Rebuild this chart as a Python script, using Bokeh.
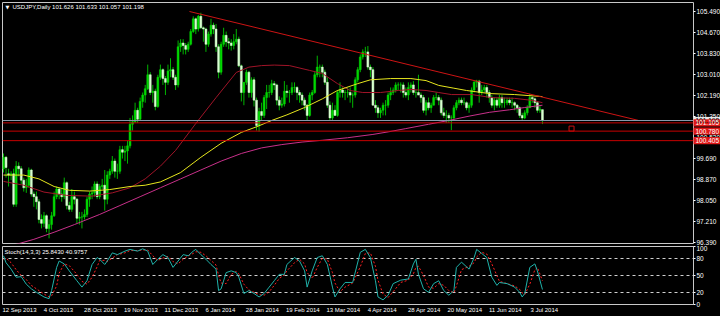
import numpy as np
from bokeh.plotting import figure
from bokeh.layouts import column
from bokeh.models import Range1d, FixedTicker, PrintfTickFormatter, Span, ColumnDataSource
from bokeh.embed import file_html
from bokeh.resources import INLINE
from bokeh.core.properties import value

# ---------------- data (USDJPY daily, 12 Sep 2013 .. 10 Jul 2014) -------------
bar_open = [99.30, 99.75, 99.10, 99.05, 99.10, 97.90, 99.40, 99.30, 98.85, 98.55,
            98.65, 99.25, 98.30, 98.20, 98.00, 97.30, 97.15, 97.45, 96.95, 97.10,
            97.45, 98.20, 98.50, 98.30, 98.20, 98.75, 97.85, 97.70, 98.20, 98.10,
            97.35, 97.40, 97.40, 97.50, 98.10, 98.30, 98.35, 98.70, 98.20, 98.60,
            98.65, 98.10, 99.05, 99.20, 99.60, 99.20, 99.20, 100.05, 99.95, 100.00,
            100.20, 101.05, 101.15, 101.60, 101.25, 101.95, 102.20, 102.45, 103.00, 102.30,
            102.35, 101.75, 102.90, 103.20, 102.85, 102.70, 103.15, 103.20, 102.90, 102.60,
            104.10, 104.25, 104.15, 104.00, 104.20, 104.70, 105.20, 104.80, 105.30, 104.85,
            104.80, 104.20, 104.60, 104.95, 104.80, 104.10, 103.10, 104.20, 104.55, 104.30,
            104.25, 104.15, 104.30, 104.40, 103.35, 102.30, 102.70, 103.10, 102.30, 102.80,
            102.00, 101.00, 101.55, 101.40, 102.10, 102.30, 102.30, 102.65, 102.60, 102.00,
            101.80, 101.85, 102.35, 102.30, 102.30, 102.50, 102.50, 102.30, 102.20, 102.00,
            101.80, 101.40, 102.20, 102.30, 103.00, 103.30, 103.30, 103.10, 102.70, 101.80,
            101.30, 101.60, 101.40, 102.30, 102.40, 102.30, 102.30, 102.30, 102.20, 102.20,
            102.80, 103.20, 103.70, 103.90, 103.90, 103.30, 103.20, 101.80, 101.70, 101.50,
            101.60, 101.80, 101.80, 102.20, 102.30, 102.40, 102.60, 102.60, 102.60, 102.30,
            102.20, 102.50, 102.60, 102.30, 102.30, 102.20, 102.10, 101.60, 101.90, 101.70,
            101.80, 102.10, 102.10, 102.00, 101.50, 101.40, 101.40, 101.30, 101.30, 101.70,
            101.90, 102.00, 101.90, 101.90, 101.70, 101.80, 102.40, 102.70, 102.75, 102.30,
            102.40, 102.50, 102.30, 102.10, 101.80, 102.00, 101.80, 102.10, 101.90, 101.90,
            102.00, 101.90, 101.90, 101.80, 101.70, 101.40, 101.30, 101.50, 101.70, 102.10,
            102.05, 101.90, 101.60, 101.626]
bar_high = [99.90, 99.80, 99.30, 99.20, 99.30, 99.60, 99.55, 99.40, 98.95, 98.90,
            99.35, 99.30, 98.40, 98.40, 98.10, 97.50, 97.60, 97.50, 97.30, 97.60,
            98.40, 98.60, 98.55, 98.50, 98.95, 98.80, 98.00, 98.50, 98.40, 98.15,
            97.60, 97.60, 97.70, 98.20, 98.40, 98.60, 98.80, 98.80, 98.70, 98.90,
            99.25, 99.20, 99.30, 99.80, 99.70, 99.50, 100.20, 100.20, 100.20, 100.40,
            101.30, 101.40, 101.90, 101.70, 102.10, 102.30, 102.60, 103.40, 103.10, 102.60,
            102.45, 103.00, 103.40, 103.25, 102.95, 103.40, 103.65, 103.30, 103.00, 104.35,
            104.40, 104.40, 104.25, 104.30, 104.80, 105.30, 105.25, 105.35, 105.44, 104.90,
            104.85, 104.70, 105.20, 105.05, 105.00, 104.20, 104.30, 104.85, 104.70, 104.45,
            104.40, 104.60, 104.80, 104.50, 103.40, 102.70, 103.20, 103.15, 102.90, 102.90,
            102.10, 101.70, 101.90, 102.20, 102.60, 102.60, 102.80, 102.75, 102.65, 102.15,
            102.10, 102.75, 102.60, 102.40, 102.70, 102.70, 102.55, 102.40, 102.30, 102.10,
            101.85, 102.30, 102.40, 103.10, 103.75, 103.40, 103.40, 103.20, 102.90, 101.95,
            101.90, 101.80, 102.40, 102.70, 102.50, 102.40, 102.50, 102.50, 102.30, 102.90,
            103.30, 103.80, 104.00, 104.10, 104.13, 103.40, 103.30, 102.00, 101.80, 101.70,
            101.90, 102.00, 102.30, 102.50, 102.50, 102.70, 102.70, 102.70, 102.70, 102.50,
            102.70, 102.70, 102.75, 102.40, 103.00, 102.30, 102.20, 102.00, 102.10, 101.90,
            102.20, 102.30, 102.20, 102.10, 101.70, 101.60, 101.50, 101.40, 101.80, 102.00,
            102.10, 102.10, 102.10, 101.95, 101.90, 102.50, 102.75, 102.80, 102.80, 102.60,
            102.60, 102.60, 102.40, 102.20, 102.10, 102.10, 102.20, 102.20, 102.10, 102.10,
            102.10, 102.10, 101.95, 101.85, 101.75, 101.50, 101.60, 101.80, 102.25, 102.15,
            102.10, 101.95, 101.80, 101.633]
bar_low = [99.15, 98.95, 98.60, 98.85, 97.80, 97.80, 99.00, 98.70, 98.40, 98.35,
           98.55, 98.20, 97.80, 97.70, 97.15, 96.95, 97.00, 96.80, 96.56, 96.90,
           97.40, 98.10, 98.10, 98.00, 98.10, 97.70, 97.60, 97.60, 97.90, 97.15,
           97.10, 96.95, 97.30, 97.40, 97.80, 98.10, 98.20, 98.10, 98.10, 98.50,
           97.65, 97.90, 98.90, 99.10, 98.95, 98.90, 99.10, 99.70, 99.60, 99.50,
           100.10, 100.80, 101.10, 101.10, 101.20, 101.70, 101.90, 102.40, 102.20, 101.90,
           101.60, 101.70, 102.80, 102.60, 102.20, 102.60, 102.90, 102.80, 102.40, 102.50,
           103.90, 103.80, 103.80, 103.90, 104.15, 104.65, 104.60, 104.70, 104.80, 104.30,
           103.90, 104.10, 104.50, 104.60, 103.90, 102.86, 103.00, 104.10, 104.10, 104.00,
           103.95, 104.00, 104.20, 103.30, 101.95, 101.80, 102.60, 102.10, 102.10, 101.75,
           100.80, 100.76, 101.20, 101.30, 101.65, 102.10, 102.20, 102.40, 101.80, 101.60,
           101.70, 101.75, 102.10, 101.90, 102.20, 102.30, 102.00, 101.90, 101.80, 101.60,
           101.20, 101.35, 102.00, 102.25, 102.90, 102.90, 102.90, 102.60, 101.70, 101.20,
           101.20, 101.40, 101.35, 102.10, 102.10, 102.00, 102.10, 101.90, 101.70, 102.10,
           102.70, 103.10, 103.60, 103.70, 103.20, 102.90, 101.80, 101.50, 101.30, 101.30,
           101.40, 101.40, 101.70, 102.00, 102.20, 102.30, 102.40, 102.30, 102.10, 102.10,
           102.00, 102.30, 102.20, 102.10, 102.20, 101.90, 101.50, 101.40, 101.60, 101.50,
           101.80, 102.00, 101.80, 101.40, 101.30, 101.10, 101.10, 100.82, 101.20, 101.60,
           101.80, 101.80, 101.80, 101.60, 101.50, 101.70, 102.30, 102.50, 101.90, 102.20,
           102.30, 102.10, 101.90, 101.70, 101.60, 101.70, 101.70, 101.70, 101.70, 101.80,
           101.80, 101.70, 101.60, 101.50, 101.30, 101.20, 101.25, 101.40, 101.70, 101.90,
           101.70, 101.50, 101.50, 101.057]
bar_close = [99.75, 99.35, 99.05, 99.10, 97.90, 99.40, 99.30, 98.85, 98.55, 98.65,
             99.25, 98.30, 98.20, 98.00, 97.30, 97.15, 97.45, 96.95, 97.10, 97.45,
             98.20, 98.50, 98.30, 98.20, 98.75, 97.85, 97.70, 98.20, 98.10, 97.35,
             97.40, 97.40, 97.50, 98.10, 98.30, 98.35, 98.70, 98.20, 98.60, 98.65,
             98.10, 99.05, 99.20, 99.60, 99.20, 99.20, 100.05, 99.95, 100.00, 100.20,
             101.05, 101.15, 101.60, 101.25, 101.95, 102.20, 102.45, 103.00, 102.30, 102.35,
             101.75, 102.90, 103.20, 102.85, 102.70, 103.15, 103.20, 102.90, 102.60, 104.10,
             104.25, 104.15, 104.00, 104.20, 104.70, 105.20, 104.80, 105.30, 104.85, 104.80,
             104.20, 104.60, 104.95, 104.80, 104.10, 103.10, 104.20, 104.55, 104.30, 104.25,
             104.15, 104.30, 104.40, 103.35, 102.30, 102.70, 103.10, 102.30, 102.80, 102.00,
             101.00, 101.55, 101.40, 102.10, 102.30, 102.30, 102.65, 102.60, 102.00, 101.80,
             101.85, 102.35, 102.30, 102.30, 102.50, 102.50, 102.30, 102.20, 102.00, 101.80,
             101.40, 102.20, 102.30, 103.00, 103.30, 103.30, 103.10, 102.70, 101.80, 101.30,
             101.60, 101.40, 102.30, 102.40, 102.30, 102.30, 102.30, 102.20, 102.20, 102.80,
             103.20, 103.70, 103.90, 103.90, 103.30, 103.20, 101.80, 101.70, 101.50, 101.60,
             101.80, 101.80, 102.20, 102.30, 102.40, 102.60, 102.60, 102.60, 102.30, 102.20,
             102.50, 102.60, 102.30, 102.30, 102.20, 102.10, 101.60, 101.90, 101.70, 101.80,
             102.10, 102.10, 102.00, 101.50, 101.40, 101.40, 101.30, 101.30, 101.70, 101.90,
             102.00, 101.90, 101.90, 101.70, 101.80, 102.40, 102.70, 102.75, 102.30, 102.40,
             102.50, 102.30, 102.10, 101.80, 102.00, 101.80, 102.10, 101.90, 101.90, 102.00,
             101.90, 101.90, 101.80, 101.70, 101.40, 101.30, 101.50, 101.70, 102.10, 102.05,
             101.90, 101.60, 101.65, 101.198]

# moving averages at sample bars
ma_fast_bars = [0, 8, 16, 25, 35, 43, 50, 56, 62, 68, 76, 84, 92, 97, 102, 107, 113, 121, 126,
                132, 137, 142, 149, 156, 161, 167, 172, 177, 185, 193, 202, 209, 213]
ma_fast_vals = [98.80, 98.65, 98.38, 98.25, 98.22, 98.35, 98.55, 98.90, 99.40, 100.02, 101.08,
                102.10, 103.09, 103.30, 103.36, 103.38, 103.36, 103.17, 103.05, 102.65, 102.38,
                102.30, 102.30, 102.38, 102.42, 102.38, 102.30, 102.22, 102.22, 102.10, 102.07,
                101.99, 101.90]
ma_mid_bars = [0, 8, 14, 20, 26, 34, 42, 50, 56, 62, 70, 78, 86, 94, 100, 106, 112, 119, 126,
               132, 140, 145, 153, 161, 167, 172, 178, 183, 192, 202, 213]
ma_mid_vals = [99.05, 99.05, 98.90, 98.60, 98.45, 98.42, 98.48, 98.60, 98.65, 98.78, 99.15,
               99.75, 100.30, 100.73, 100.95, 101.20, 101.42, 101.71, 102.05, 102.38, 102.65,
               102.80, 102.85, 102.85, 102.77, 102.58, 102.47, 102.38, 102.26, 102.22, 102.14]
ma_slow_bars = [0, 6, 12, 20, 28, 38, 46, 54, 62, 70, 78, 86, 94, 102, 110, 118, 126, 136,
                146, 152, 159, 168, 176, 184, 192, 200, 206, 213]
ma_slow_vals = [96.20, 96.35, 96.52, 96.80, 97.10, 97.50, 97.85, 98.20, 98.55, 98.90, 99.25,
                99.60, 99.90, 100.12, 100.25, 100.35, 100.42, 100.52, 100.65, 100.75, 100.88,
                101.05, 101.20, 101.37, 101.52, 101.62, 101.71, 101.80]

# trend line anchors (bar index, price)
trend_bars = [73.5, 251.0]
trend_prices = [105.49, 101.20]

# horizontal levels
level_prices = [101.105, 100.780, 100.405]
bid_price = 101.198
marker_bar = [224.5]
marker_price = [100.88]

price_ticks = [96.390, 97.210, 98.050, 98.870, 99.690, 100.530, 101.350,
               102.190, 103.010, 103.830, 104.670, 105.490]

date_ticks = [0, 16, 32, 48, 64, 80, 96, 112, 128, 144, 160, 176, 192, 208]
date_labels = ["12 Sep 2013", "4 Oct 2013", "28 Oct 2013", "19 Nov 2013", "11 Dec 2013",
               "6 Jan 2014", "28 Jan 2014", "19 Feb 2014", "13 Mar 2014", "4 Apr 2014",
               "28 Apr 2014", "20 May 2014", "11 Jun 2014", "3 Jul 2014"]

# stochastic (14,3,3) at sample bars
stoch_bars = [0, 1, 3, 5, 7, 9, 11, 13, 16, 18, 19, 21, 22, 24, 26, 29, 31, 33, 35, 37, 38, 40,
              41, 43, 45, 48, 50, 53, 55, 57, 59, 61, 63, 65, 67, 69, 71, 73, 75, 76, 78, 80,
              82, 84, 85, 86, 88, 90, 92, 93, 95, 97, 99, 101, 103, 105, 107, 109, 111, 112,
              115, 117, 119, 120, 122, 124, 126, 128, 130, 131, 133, 135, 138, 141, 143, 145,
              147, 148, 150, 152, 154, 157, 160, 162, 163, 164, 166, 168, 170, 172, 174, 176,
              178, 179, 181, 184, 186, 187, 189, 191, 193, 195, 196, 199, 202, 204, 205, 206,
              208, 210, 211, 213]
stoch_k = [84, 72, 61, 47, 48, 35, 27, 21, 13, 10, 24, 64, 75, 70, 58, 41, 30, 41, 69, 81, 78, 69,
           75, 89, 86, 92, 95, 92, 96, 92, 69, 78, 86, 81, 64, 75, 86, 84, 92, 95, 86, 78,
           69, 61, 24, 27, 55, 58, 55, 47, 19, 24, 19, 13, 19, 30, 41, 52, 52, 69,
           81, 75, 58, 30, 58, 81, 84, 69, 30, 13, 27, 38, 38, 90, 95, 81,
           41, 13, 8, 16, 36, 42, 44, 70, 78, 52, 27, 21, 36, 41, 24, 16,
           24, 64, 73, 61, 81, 95, 88, 81, 47, 33, 38, 36, 30, 21, 13, 19,
           64, 70, 58, 25.843]
stoch_d = [78, 80, 72, 60, 50, 43, 33, 27, 18, 13, 15, 32, 54, 70, 67, 52, 40, 35, 47, 65, 76, 76,
           74, 80, 86, 89, 93, 93, 94, 94, 84, 76, 80, 83, 74, 70, 78, 84, 88, 91, 90, 84,
           76, 68, 50, 37, 36, 52, 57, 53, 35, 25, 21, 17, 16, 22, 33, 45, 51, 58,
           72, 78, 70, 55, 45, 64, 80, 78, 55, 37, 22, 30, 37, 65, 88, 89,
           66, 42, 18, 12, 22, 38, 42, 53, 64, 66, 50, 30, 28, 36, 33, 24,
           20, 32, 60, 66, 72, 82, 90, 87, 70, 50, 40, 36, 32, 26, 20, 17,
           35, 60, 64, 40.976]
stoch_levels = [20, 50, 80]
stoch_ticks = [0, 20, 50, 80, 100]

title_text = "USDJPY,Daily  101.626 101.633 101.057 101.198"
stoch_text = "Stoch(14,3,3) 25.8430 40.9757"

# ---------------- drawing -------------
FONT = "Liberation Sans"
BAR_PX = 2.53          # pixels per bar in the reference
PRICE_PX = 25.4        # pixels per yen in the reference
n = len(bar_close)
bars = np.arange(n)
o = np.array(bar_open); c = np.array(bar_close)
src = ColumnDataSource(dict(
    x=bars, high=bar_high, low=bar_low,
    top=np.maximum(o, c), bottom=np.minimum(o, c),
    fill=["#d8ffd0" if cc < oo else "#00d800" for oo, cc in zip(o, c)],
))

x_lo, x_hi = -0.4, 272.7
y_lo, y_hi = 96.356, 105.844
xr = Range1d(x_lo, x_hi)

p = figure(frame_width=691, frame_height=241, x_range=xr, y_range=Range1d(y_lo, y_hi),
           output_backend="svg", toolbar_location=None, x_axis_location=None,
           y_axis_location="right", background_fill_color="black", border_fill_color="black",
           outline_line_color="#c8c8c8", min_border_left=2, min_border_top=2,
           min_border_bottom=2, min_border_right=0)
p.grid.visible = False

def style_right_axis(ax):
    ax.major_label_text_color = "white"
    ax.major_label_text_font = FONT
    ax.major_label_text_font_size = "6.5px"
    ax.major_tick_line_color = "white"
    ax.major_tick_in = 0
    ax.major_tick_out = 2
    ax.minor_tick_line_color = None
    ax.axis_line_color = None
    ax.major_label_standoff = 1

p.yaxis.ticker = FixedTicker(ticks=price_ticks)
p.yaxis.formatter = PrintfTickFormatter(format="%.3f")
style_right_axis(p.yaxis[0])

# levels
for lv in level_prices:
    p.add_layout(Span(location=lv, dimension="width", line_color="#c80000", line_width=1))
p.add_layout(Span(location=bid_price, dimension="width", line_color="#8899aa", line_width=1))

# candles
p.segment(x0="x", x1="x", y0="low", y1="high", source=src, line_color="#00b400", line_width=1)
p.vbar(x="x", width=0.75, top="top", bottom="bottom", source=src, fill_color="fill",
       line_color="fill", line_width=0.5)

# moving averages and trend line
p.line(ma_slow_bars, ma_slow_vals, line_color="#c8308a", line_width=1)
p.line(ma_fast_bars, ma_fast_vals, line_color="#a01428", line_width=1)
p.line(ma_mid_bars, ma_mid_vals, line_color="#e6e61e", line_width=1)
p.line(trend_bars, trend_prices, line_color="#cc1414", line_width=1)
p.scatter(marker_bar, marker_price, marker="square", size=5, fill_color=None,
          line_color="#d01010", line_width=1)

# header text
p.text(x=[x_lo], y=[y_hi], text=["\u25bc"], x_offset=3, y_offset=4, text_color="white",
       text_font=value("DejaVu Sans"), text_font_size="5px", text_baseline="middle")
p.text(x=[x_lo], y=[y_hi], text=[title_text], x_offset=10, y_offset=4, text_color="white",
       text_font=value(FONT), text_font_size="6px", text_baseline="middle")

# price tags on the axis band (overlay level, right of the frame)
tag_prices = [bid_price] + level_prices
half_h = 3.6 / PRICE_PX
tag_src = ColumnDataSource(dict(
    left=[x_hi] * len(tag_prices), right=[x_hi + 27 / BAR_PX] * len(tag_prices),
    y=tag_prices, top=[v + half_h for v in tag_prices], bottom=[v - half_h for v in tag_prices],
    text=["%.3f" % v for v in tag_prices],
    fill=["#e8e8e8"] + ["#e01818"] * len(level_prices),
    color=["black"] + ["white"] * len(level_prices),
))
p.quad(left="left", right="right", top="top", bottom="bottom", source=tag_src,
       fill_color="fill", line_color=None, level="overlay")
p.text(x="left", y="y", text="text", source=tag_src, x_offset=2, text_color="color",
       text_font=value(FONT), text_font_size="6.5px", text_baseline="middle", level="overlay")

# ---------------- stochastic panel -------------
s = figure(frame_width=691, frame_height=58, x_range=xr, y_range=Range1d(0, 100),
           output_backend="svg", toolbar_location=None, y_axis_location="right",
           background_fill_color="black", border_fill_color="black",
           outline_line_color="#c8c8c8", min_border_left=2, min_border_top=1,
           min_border_bottom=0, min_border_right=0)
s.xgrid.visible = False
s.ygrid.ticker = FixedTicker(ticks=stoch_levels)
s.ygrid.grid_line_color = "#d0d0d0"
s.ygrid.grid_line_dash = "3 3"
s.yaxis.ticker = FixedTicker(ticks=stoch_ticks)
style_right_axis(s.yaxis[0])

# date labels are left-aligned on their bar in the reference: shift the label anchor
label_pos = [t + (len(l) * 2.9 / 2.0) / BAR_PX for t, l in zip(date_ticks, date_labels)]
xa = s.xaxis[0]
xa.ticker = FixedTicker(ticks=label_pos)
xa.major_label_overrides = {pos: l for pos, l in zip(label_pos, date_labels)}
xa.major_label_text_color = "white"
xa.major_label_text_font = FONT
xa.major_label_text_font_size = "6px"
xa.major_tick_line_color = None
xa.major_tick_in = 0
xa.major_tick_out = 0
xa.minor_tick_line_color = None
xa.axis_line_color = None
xa.major_label_standoff = 2

s.line(stoch_bars, stoch_d, line_color="#ff2020", line_width=1, line_dash="2 2")
s.line(stoch_bars, stoch_k, line_color="#20b2aa", line_width=1)
s.text(x=[x_lo], y=[100], text=[stoch_text], x_offset=2, y_offset=5, text_color="white",
       text_font=value(FONT), text_font_size="6px", text_baseline="middle")

layout = column(p, s, spacing=0, background="black")
html = file_html(layout, INLINE)
html = html.replace("<body>", '<body style="margin:0;background:black;">')
open("out.html", "w").write(html)
